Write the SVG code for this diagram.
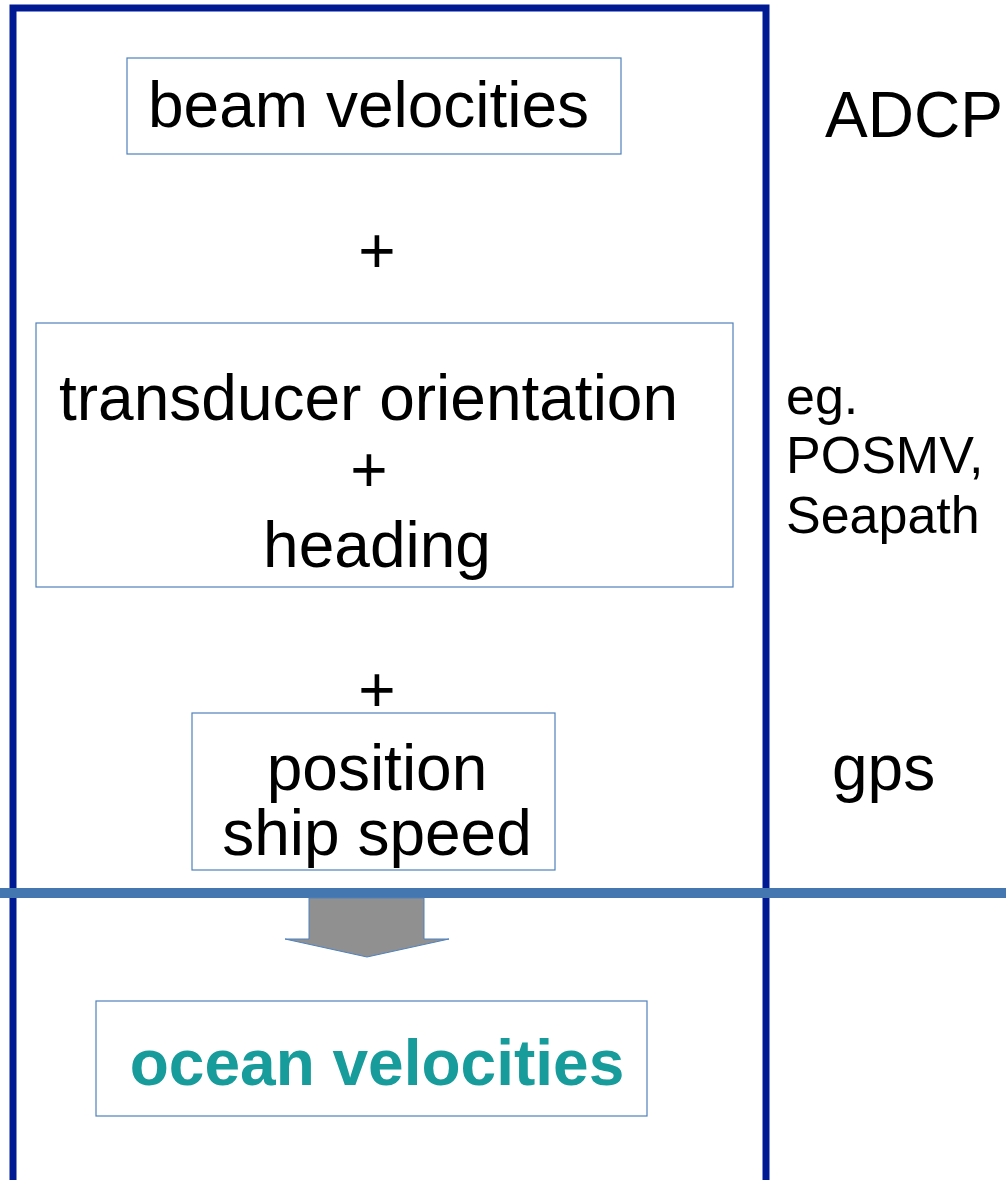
<svg xmlns="http://www.w3.org/2000/svg" width="1006" height="1180" viewBox="0 0 1006 1180">
<style>
.box{fill:#fff;stroke:#4f81bd;stroke-width:1.2}
.t{font-family:"Liberation Sans",Arial,sans-serif;font-size:64px;fill:#000}
.s{font-family:"Liberation Sans",Arial,sans-serif;font-size:52px;fill:#000}
.o{font-family:"Liberation Sans",Arial,sans-serif;font-size:64px;font-weight:bold;fill:#179b9b}
</style>
<rect width="1006" height="1180" fill="#fff"/>
<g id="frame">
<rect x="13" y="8" width="753" height="1190" fill="none" stroke="#001a94" stroke-width="7"/>
</g>
<g id="beam">
<rect class="box" x="127" y="58" width="494" height="96"/>
<text class="t" x="148" y="127">beam velocities</text>
</g>
<g id="plus1"><text class="t" x="377" y="273" text-anchor="middle">+</text></g>
<g id="orientation">
<rect class="box" x="36" y="323" width="697" height="264"/>
<text class="t" x="59" y="420">transducer orientation</text>
<text class="t" x="369" y="492" text-anchor="middle">+</text>
<text class="t" x="377" y="567" text-anchor="middle">heading</text>
</g>
<g id="plus2"><text class="t" x="377" y="712" text-anchor="middle">+</text></g>
<g id="position">
<rect class="box" x="192" y="713" width="363" height="157"/>
<text class="t" x="377" y="790" text-anchor="middle">position</text>
<text class="t" x="377" y="855" text-anchor="middle">ship speed</text>
</g>
<g id="adcp"><text class="t" x="825" y="137">ADCP</text></g>
<g id="eg">
<text class="s" x="786" y="414">eg.</text>
<text class="s" x="786" y="473">POSMV,</text>
<text class="s" x="786" y="533">Seapath</text>
</g>
<g id="gps"><text class="t" x="832" y="790">gps</text></g>
<g id="connectors">
<line x1="0" y1="893" x2="1006" y2="893" stroke="#4477b0" stroke-width="10"/>
<polygon points="309,898 424,898 424,939 449,939 367,957 285,939 309,939" fill="#909090" stroke="#4f81bd" stroke-width="1"/>
</g>
<g id="ocean">
<rect class="box" x="96" y="1001" width="551" height="115"/>
<text class="o" x="377" y="1085" text-anchor="middle">ocean velocities</text>
</g>
</svg>
